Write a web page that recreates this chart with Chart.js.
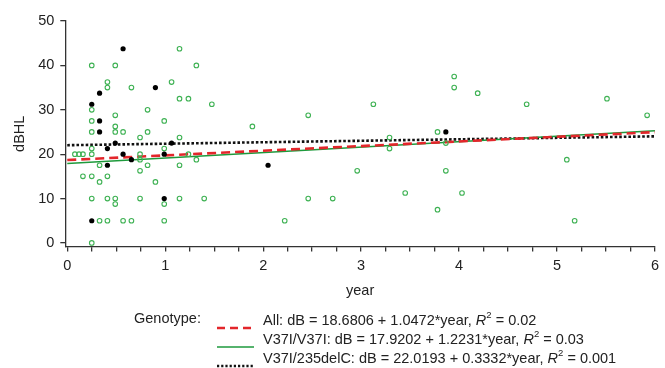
<!DOCTYPE html>
<html>
<head>
<meta charset="utf-8">
<script src="https://cdn.jsdelivr.net/npm/chart.js@4.4.1/dist/chart.umd.min.js"></script>
<style>
html,body{margin:0;padding:0;background:#fff;}
#wrap{position:relative;width:665px;height:368px;overflow:hidden;font-family:"Liberation Sans",Arial,Helvetica,sans-serif;color:#222;}
#c{position:absolute;left:0;top:0;}
.lg{position:absolute;font-size:14.5px;line-height:17px;white-space:nowrap;}
.sw{position:absolute;left:217px;width:37px;height:6px;}
.tx{position:absolute;left:263px;}
.tx i{font-style:italic;}
.tx sup{font-size:9.5px;position:relative;top:-1px;vertical-align:super;line-height:0;}
</style>
</head>
<body>
<div id="wrap">
<canvas id="c" width="665" height="368"></canvas>
<div id="legend"></div>
</div>
<script>
// ---- data ----
const xTickLabels = [0, 1, 2, 3, 4, 5, 6];
const yTickLabels = [0, 10, 20, 30, 40, 50];

// V37I/V37I (open green circles)
const greenX = [1.146,0.25,0.49,1.318,0.41,1.065,0.41,0.655,1.146,1.237,1.476,0.25,0.82,0.49,0.25,0.99,0.49,
  0.25,0.49,0.57,0.82,0.743,1.146,0.25,0.99,0.078,0.12,0.16,0.25,0.743,1.237,0.743,1.318,0.33,0.82,1.146,
  0.743,0.16,0.25,0.41,0.33,0.90,0.25,0.41,0.49,0.743,1.146,1.398,0.49,0.99,0.33,0.41,0.57,0.655,0.99,0.25,
  1.89,2.22,2.46,2.46,2.71,2.96,3.125,3.29,3.29,3.45,3.78,3.78,3.865,3.865,3.95,3.95,4.03,4.19,4.69,5.10,5.18,5.51,5.92];
const greenY = [43.75,40,40,40,36.25,36.25,35,35,32.5,32.5,31.25,30,30,28.75,27.5,27.5,26.25,
  25,25,25,25,23.75,23.75,21.25,21.25,20,20,20,20,20,20,18.75,18.75,17.5,17.5,17.5,
  16.25,15,15,15,13.75,13.75,10,10,10,10,10,10,8.75,8.75,5,5,5,5,5,0,
  26.25,5,28.75,10,10,16.25,31.25,23.75,21.25,11.25,25,7.5,22.5,16.25,37.5,35,11.25,33.75,31.25,18.75,5,32.5,28.75];

// V37I/235delC (filled black circles)
const blackX = [0.57,0.90,0.33,0.25,0.33,0.33,0.49,1.065,0.41,0.57,0.99,0.655,0.41,2.05,0.99,0.25,3.865];
const blackY = [43.75,35,33.75,31.25,27.5,25,22.5,22.5,21.25,20,20,18.75,17.5,17.5,10,5,25];

// regression fits
const fitNames = ['All', 'V37I/V37I', 'V37I/235delC'];
const fitIntercepts = [18.6806, 17.9202, 22.0193];
const fitSlopes = [1.0472, 1.2231, 0.3332];
const fitR2 = ['0.02', '0.03', '0.001'];
const fitRange = [0, 6];

// ---- styles ----
const FONT = '"Liberation Sans", Arial, Helvetica, sans-serif';
const AXIS = '#333';
const fitStyles = [
  {color: '#e3262b', width: 2.6, dash: [9, 5]},
  {color: '#1e9a3c', width: 1.5, dash: []},
  {color: '#111111', width: 2.6, dash: [2.6, 2]}
];

const fitDatasets = fitNames.map((n, i) => ({
  label: n,
  data: fitRange.map(x => ({x: x, y: fitIntercepts[i] + fitSlopes[i] * x})),
  showLine: true,
  borderColor: fitStyles[i].color,
  borderWidth: fitStyles[i].width,
  borderDash: fitStyles[i].dash,
  pointRadius: 0,
  fill: false,
  order: 5 + i
}));

const datasets = [
  {
    label: 'V37I/V37I points',
    data: greenX.map((x, i) => ({x: x, y: greenY[i]})),
    pointRadius: 2.3,
    pointBorderWidth: 1.1,
    pointBorderColor: '#3fb254',
    pointBackgroundColor: 'rgba(255,255,255,0)',
    showLine: false,
    order: 2
  },
  {
    label: 'V37I/235delC points',
    data: blackX.map((x, i) => ({x: x, y: blackY[i]})),
    pointRadius: 2.6,
    pointBorderWidth: 0,
    pointBackgroundColor: '#000',
    showLine: false,
    order: 1
  },
  ...fitDatasets
];

new Chart(document.getElementById('c'), {
  type: 'scatter',
  data: {datasets: datasets},
  options: {
    responsive: false,
    animation: false,
    devicePixelRatio: 1,
    layout: {autoPadding: false, padding: {left: 0, right: 1.5, top: 21, bottom: 66}},
    plugins: {legend: {display: false}, tooltip: {enabled: false}},
    scales: {
      x: {
        type: 'linear', min: -0.02, max: 6,
        afterFit: s => { s.height = 55.5; },
        ticks: {
          stepSize: 0.25, includeBounds: false, autoSkip: false, maxRotation: 0, minRotation: 0,
          padding: 6, color: '#222', font: {family: FONT, size: 14.5},
          callback: v => xTickLabels.includes(v) ? String(v) : ''
        },
        grid: {display: true, drawOnChartArea: false, drawTicks: true, tickLength: 5, color: AXIS, tickColor: AXIS, tickWidth: 1.3, lineWidth: 1.3},
        border: {display: true, color: AXIS, width: 1.3},
        title: {display: true, text: 'year', color: '#222', font: {family: FONT, size: 14.5}, padding: {top: 4, bottom: 2}}
      },
      y: {
        type: 'linear', min: -0.8, max: 50,
        afterFit: s => { s.width = 65.3; },
        ticks: {
          stepSize: 10, includeBounds: false, autoSkip: false, padding: 6, color: '#222',
          font: {family: FONT, size: 14.5},
          callback: v => yTickLabels.includes(v) ? String(v) : ''
        },
        grid: {display: true, drawOnChartArea: false, drawTicks: true, tickLength: 5, color: AXIS, tickColor: AXIS, tickWidth: 1.3, lineWidth: 1.3},
        border: {display: true, color: AXIS, width: 1.3},
        title: {display: true, text: 'dBHL', color: '#222', font: {family: FONT, size: 14.5}, padding: {top: 11.3, bottom: 0}}
      }
    }
  }
});

// ---- legend (HTML text) ----
const lg = document.getElementById('legend');
function add(html, cls, left, top) {
  const d = document.createElement('div');
  d.className = 'lg ' + (cls || '');
  d.style.top = top + 'px';
  if (left !== null) d.style.left = left + 'px';
  d.innerHTML = html;
  lg.appendChild(d);
  return d;
}
add('Genotype:', '', 134, 309.5);
const rowCenters = [320, 339, 358];
fitNames.forEach((n, i) => {
  const st = fitStyles[i];
  const sw = document.createElement('div');
  sw.className = 'sw';
  sw.style.top = (rowCenters[i] - 3) + 'px';
  sw.innerHTML = '<svg width="37" height="6"><line x1="0" y1="3" x2="37" y2="3" stroke="' + st.color +
    '" stroke-width="' + (i === 1 ? 1.5 : 2.4) + '" stroke-dasharray="' + (i === 0 ? '8,5' : (i === 2 ? '2.2,2' : 'none')) + '"/></svg>';
  lg.appendChild(sw);
  const sign = fitSlopes[i] >= 0 ? ' + ' : ' - ';
  const txt = n + ': dB = ' + fitIntercepts[i].toFixed(4) + sign + Math.abs(fitSlopes[i]).toFixed(4) +
    '*year, <i>R</i><sup>2</sup> = ' + fitR2[i];
  add(txt, 'tx', null, rowCenters[i] - 8.5);
});
</script>
</body>
</html>
